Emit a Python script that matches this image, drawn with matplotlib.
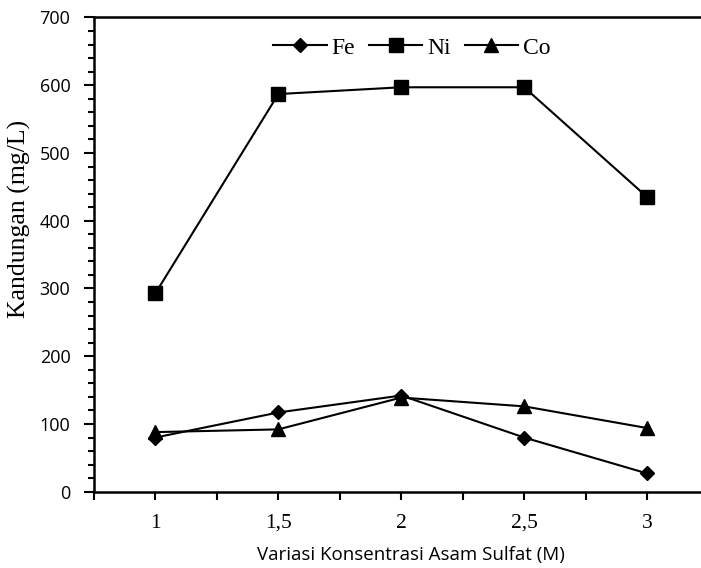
import numpy as np
import matplotlib
matplotlib.use("Agg")
import matplotlib.pyplot as plt
from matplotlib.ticker import MultipleLocator

# data
konsentrasi = ["1", "1,5", "2", "2,5", "3"]
fe = [80, 117, 142, 80, 27]
ni = [293, 587, 597, 597, 435]
co = [88, 92, 139, 126, 94]

serif = "Liberation Serif"
sans = "Open Sans"

fig = plt.figure(figsize=(7.01, 5.68), dpi=100)
# right edge of the axes sits just outside the picture, as in the reference
ax = fig.add_axes([0.1341, 0.1343, 0.8767, 0.8349])

x = np.arange(1, len(konsentrasi) + 1)
ax.plot(x, fe, color="black", lw=1.5, marker="D", ms=7.5, label="Fe")
ax.plot(x, ni, color="black", lw=1.5, marker="s", ms=10, label="Ni")
ax.plot(x, co, color="black", lw=1.5, marker="^", ms=9.5, label="Co")

ax.set_xlim(0.5, len(konsentrasi) + 0.5)
ax.set_ylim(0, 700)

for s in ax.spines.values():
    s.set_linewidth(1.8)

ax.set_xticks(x)
ax.set_xticklabels(konsentrasi, fontfamily=serif, fontsize=15.5)
ax.xaxis.set_minor_locator(MultipleLocator(0.5))
ax.tick_params(axis="x", which="both", direction="out", length=6, width=1.5, pad=10)

ax.yaxis.set_major_locator(MultipleLocator(100))
ax.yaxis.set_minor_locator(MultipleLocator(20))
ax.tick_params(axis="y", which="major", direction="out", length=7, width=1.5, pad=10)
ax.tick_params(axis="y", which="minor", direction="out", length=4, width=1.5)
for lab in ax.get_yticklabels():
    lab.set_fontfamily(sans)
    lab.set_fontsize(13)

ax.set_ylabel("Kandungan (mg/L)", fontfamily=serif, fontsize=18.5)
ax.yaxis.set_label_coords(-0.103, 0.575)
ax.set_xlabel("Variasi Konsentrasi Asam Sulfat (M)", fontfamily=sans, fontsize=13.5)
ax.xaxis.set_label_coords(0.516, -0.115)

ax.legend(loc="center", bbox_to_anchor=(0.517, 0.936), ncol=3, frameon=False,
          prop={"family": serif, "size": 17}, handlelength=2.25, columnspacing=0.6,
          handletextpad=0.2, borderpad=0)

fig.savefig("out.png", dpi=100)
